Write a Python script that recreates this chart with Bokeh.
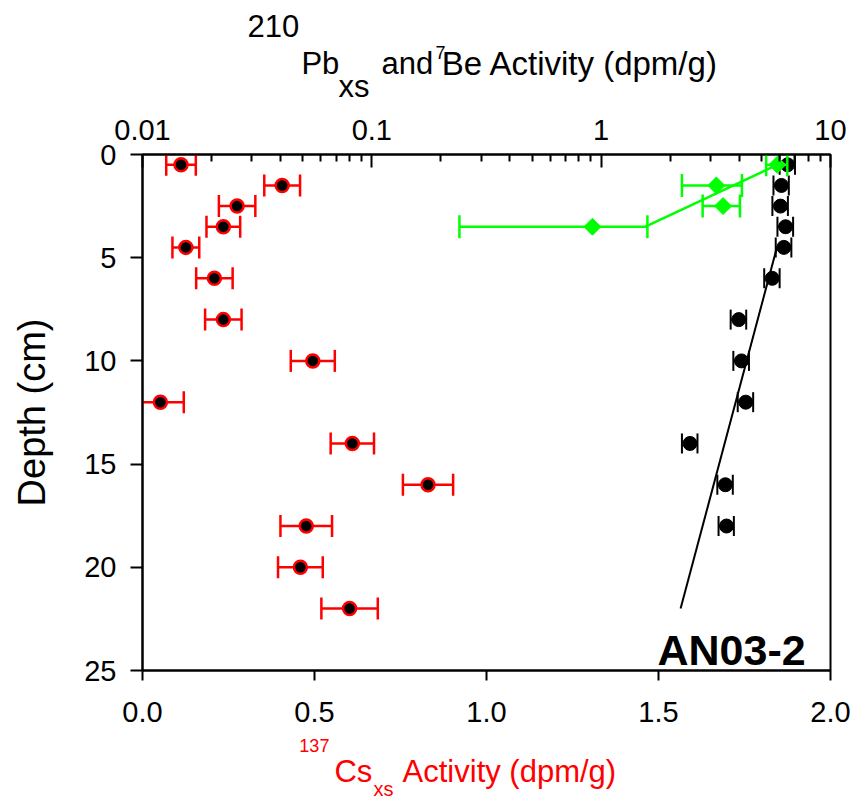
import numpy as np
from bokeh.plotting import figure
from bokeh.models import (Range1d, LogScale, LogAxis, FixedTicker,
                          Label, PrintfTickFormatter, ColumnDataSource)
from bokeh.layouts import column
from bokeh.core.properties import value
from bokeh.embed import file_html
from bokeh.resources import INLINE

# ---------------- data ----------------
# 137Cs (bottom, linear axis)
cs_depth = [0.5, 1.5, 2.5, 3.5, 4.5, 6, 8, 10, 12, 14, 16, 18, 20, 22]
cs_activity = [0.112, 0.406, 0.275, 0.235, 0.126, 0.209, 0.235, 0.495, 0.052,
               0.610, 0.830, 0.476, 0.459, 0.602]
cs_error = [0.043, 0.052, 0.053, 0.049, 0.039, 0.053, 0.053, 0.064, 0.068,
            0.063, 0.073, 0.075, 0.065, 0.082]

# 210Pb xs (top, log axis)
pb_depth = [0.5, 1.5, 2.5, 3.5, 4.5, 6, 8, 10, 12, 14, 16, 18]
pb_activity = [6.50, 6.11, 6.05, 6.37, 6.26, 5.57, 3.98, 4.09, 4.27, 2.44, 3.48, 3.52]
pb_error = [0.50, 0.47, 0.47, 0.50, 0.49, 0.43, 0.31, 0.32, 0.33, 0.19, 0.27, 0.27]

# 7Be (top, log axis)
be_depth = [0.5, 1.5, 2.5, 3.5]
be_activity = [5.86, 3.18, 3.40, 0.916]
be_error = [0.62, 0.93, 0.63, 0.675]

# fitted profiles
pb_fit_depth = [4.5, 22.0]
pb_fit_activity = [5.84, 2.22]
be_fit_depth = [0.5, 3.5]
be_fit_activity = [5.86, 1.56]

cs_ticks = [0.0, 0.5, 1.0, 1.5, 2.0]
log_ticks = [0.01, 0.1, 1, 10]
log_tick_labels = ["0.01", "0.1", "1", "10"]
depth_ticks = [0, 5, 10, 15, 20, 25]

FONT = "Liberation Sans"
RED = "#ff0000"
GREEN = "#00ff00"
W = 853
H_TOP, H_MAIN, H_BOT = 106, 628, 66
B_LEFT, B_RIGHT = 142, 23

# ---------------- main figure ----------------
p = figure(width=W, height=H_MAIN, output_backend="svg", toolbar_location=None,
           x_range=Range1d(0, 2), y_range=Range1d(25, 0),
           min_border_left=B_LEFT, min_border_right=B_RIGHT,
           min_border_top=48, min_border_bottom=64,
           x_axis_location="below")
p.extra_x_ranges = {"log": Range1d(0.01, 10)}
p.extra_x_scales = {"log": LogScale()}
p.grid.visible = False
p.outline_line_color = "black"
p.outline_line_width = 2

# bottom axis
xa = p.xaxis[0]
xa.ticker = FixedTicker(ticks=cs_ticks)
xa.formatter = PrintfTickFormatter(format="%.1f")
xa.major_tick_out = 10
xa.major_tick_in = 0
xa.minor_tick_out = 0
xa.minor_tick_in = 0
xa.axis_line_width = 2
xa.major_tick_line_width = 2
xa.major_label_text_font = FONT
xa.major_label_text_font_size = "29px"
xa.major_label_text_color = "black"
xa.major_label_standoff = 21

# left axis
ya = p.yaxis[0]
ya.ticker = FixedTicker(ticks=depth_ticks)
ya.major_tick_out = 12
ya.major_tick_in = 0
ya.minor_tick_out = 0
ya.minor_tick_in = 0
ya.axis_line_width = 2
ya.major_tick_line_width = 2
ya.major_label_text_font = FONT
ya.major_label_text_font_size = "29px"
ya.major_label_text_color = "black"
ya.major_label_standoff = 14
ya.axis_label = "Depth (cm)"
ya.axis_label_text_font = FONT
ya.axis_label_text_font_style = "normal"
ya.axis_label_text_font_size = "38px"
ya.axis_label_text_color = "black"
ya.axis_label_standoff = 28

# top log axis
minor = [m * d for d in [0.01, 0.1, 1] for m in range(2, 10)]
ta = LogAxis(x_range_name="log",
             ticker=FixedTicker(ticks=log_ticks, minor_ticks=minor))
ta.major_label_overrides = {t: l for t, l in zip(log_ticks, log_tick_labels)}
ta.major_tick_in = 13
ta.major_tick_out = 0
ta.minor_tick_in = 7
ta.minor_tick_out = 0
ta.axis_line_width = 2
ta.major_tick_line_width = 2
ta.minor_tick_line_width = 2
ta.major_label_text_font = FONT
ta.major_label_text_font_size = "29px"
ta.major_label_text_color = "black"
ta.major_label_standoff = 15
p.add_layout(ta, "above")

# ---------------- Cs data (red) ----------------
cs_a = np.array(cs_activity)
cs_e = np.array(cs_error)
cs_src = ColumnDataSource(dict(d=cs_depth, a=cs_a, lo=cs_a - cs_e, hi=cs_a + cs_e))
p.segment(x0="lo", y0="d", x1="hi", y1="d", source=cs_src, line_color=RED, line_width=2.5)
for col in ("lo", "hi"):
    p.scatter(x=col, y="d", source=cs_src, marker="dash", angle=np.pi / 2, size=22,
              line_color=RED, line_width=2.5)
p.scatter(x="a", y="d", source=cs_src, marker="circle", size=13,
          fill_color="black", line_color=RED, line_width=2.5)

# ---------------- Pb data (black, log) ----------------
pb_a = np.array(pb_activity)
pb_e = np.array(pb_error)
pb_src = ColumnDataSource(dict(d=pb_depth, a=pb_a, lo=pb_a - pb_e, hi=pb_a + pb_e))
p.line(x=pb_fit_activity, y=pb_fit_depth, x_range_name="log", line_color="black",
       line_width=2)
p.segment(x0="lo", y0="d", x1="hi", y1="d", source=pb_src, x_range_name="log",
          line_color="black", line_width=2)
for col in ("lo", "hi"):
    p.scatter(x=col, y="d", source=pb_src, x_range_name="log", marker="dash",
              angle=np.pi / 2, size=20, line_color="black", line_width=2)
p.scatter(x="a", y="d", source=pb_src, x_range_name="log", marker="circle", size=14,
          fill_color="black", line_color="black")

# ---------------- Be data (green, log) ----------------
be_a = np.array(be_activity)
be_e = np.array(be_error)
be_src = ColumnDataSource(dict(d=be_depth, a=be_a, lo=be_a - be_e, hi=be_a + be_e))
p.line(x=be_fit_activity, y=be_fit_depth, x_range_name="log", line_color=GREEN,
       line_width=2.5)
p.segment(x0="lo", y0="d", x1="hi", y1="d", source=be_src, x_range_name="log",
          line_color=GREEN, line_width=2.5)
for col in ("lo", "hi"):
    p.scatter(x=col, y="d", source=be_src, x_range_name="log", marker="dash",
              angle=np.pi / 2, size=23, line_color=GREEN, line_width=2.5)
p.scatter(x="a", y="d", source=be_src, x_range_name="log", marker="square",
          angle=np.pi / 4, size=12, fill_color=GREEN, line_color=GREEN)

# core name
p.add_layout(Label(x=1.497, y=24.03, text="AN03-2", text_font=FONT,
                   text_font_size="43px", text_font_style="bold", text_color="black",
                   text_align="left", text_baseline="alphabetic"))


# ---------------- title strips: x in the Cs axis units (same frame), y in pixels ----
def strip(h):
    f = figure(width=W, height=h, output_backend="svg", toolbar_location=None,
               x_range=Range1d(0, 2), y_range=Range1d(h, 0),
               x_axis_location=None, y_axis_location=None,
               min_border_left=B_LEFT, min_border_right=B_RIGHT,
               min_border_top=0, min_border_bottom=0)
    f.grid.visible = False
    f.outline_line_color = None
    return f


def put(f, txt, x, y, size, color="black"):
    f.text(x=[x], y=[y], text=[txt], text_font=value(FONT), text_font_size=value(size),
           text_color=color, text_align="left", text_baseline="alphabetic")


ft = strip(H_TOP)
put(ft, "210", 0.305, 25, "31px")
put(ft, "Pb", 0.462, 63, "31px")
put(ft, "xs", 0.570, 86, "31px")
put(ft, "and", 0.695, 63, "31px")
put(ft, "7", 0.852, 52, "18px")
put(ft, "Be Activity (dpm/g)", 0.870, 63, "33px")

fb = strip(H_BOT)
put(fb, "137", 0.456, 11, "18px", RED)
put(fb, "Cs", 0.558, 37, "31px", RED)
put(fb, "xs", 0.6715, 54, "20px", RED)
put(fb, "Activity (dpm/g)", 0.756, 37, "31px", RED)

layout = column(ft, p, fb, spacing=0)
open("out.html", "w").write(file_html(layout, INLINE))
